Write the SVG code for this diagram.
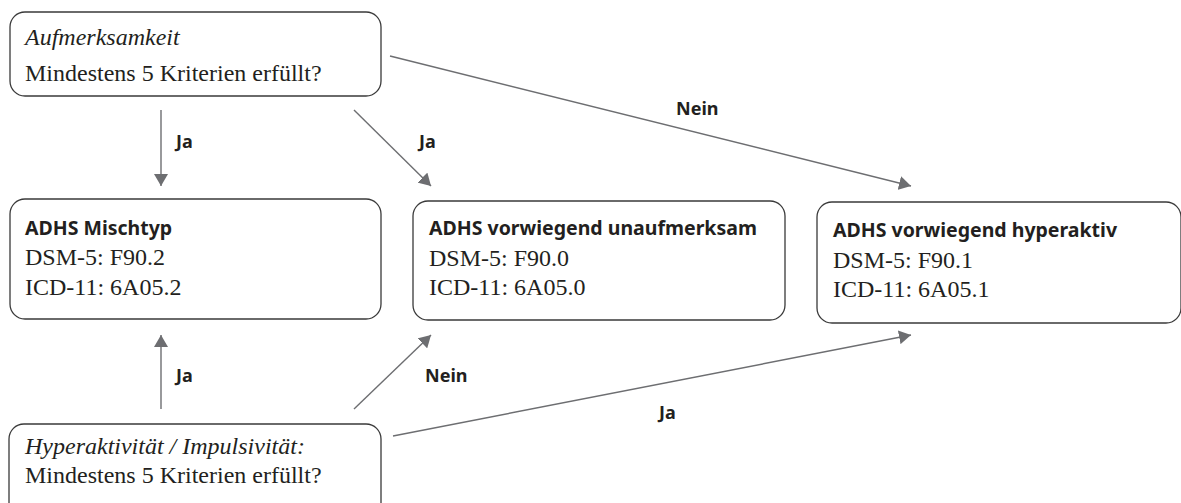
<svg xmlns="http://www.w3.org/2000/svg" width="1181" height="503" viewBox="0 0 1181 503">
<style>
.box{fill:#fff;stroke:#3a3a3a;stroke-width:1.3}
.serif{font-family:"Liberation Serif","Times New Roman",serif;font-size:24px;fill:#231f20}
.it{font-style:italic}
.title{font-family:"Noto Sans","Open Sans",sans-serif;font-weight:700;font-size:19.5px;fill:#231f20}
.lbl{font-family:"Noto Sans","Open Sans",sans-serif;font-weight:700;font-size:18px;fill:#231f20}
.conn{stroke:#6d6e71;stroke-width:1.4;fill:none;marker-end:url(#ah)}
</style>
<defs>
<marker id="ah" viewBox="0 0 12 14" refX="12" refY="7" markerWidth="12" markerHeight="14" markerUnits="userSpaceOnUse" orient="auto">
<path d="M0,0 L12,7 L0,14 Z" fill="#6d6e71"/>
</marker>
</defs>
<rect width="1181" height="503" fill="#fff"/>
<g id="connectors">
<line class="conn" x1="161" y1="110" x2="161" y2="186"/>
<line class="conn" x1="354" y1="110" x2="431" y2="186"/>
<line class="conn" x1="390" y1="56" x2="911" y2="186"/>
<line class="conn" x1="161" y1="409" x2="161" y2="335"/>
<line class="conn" x1="354" y1="409" x2="431" y2="335"/>
<line class="conn" x1="393" y1="436" x2="911" y2="335"/>
<text class="lbl" x="176" y="148">Ja</text>
<text class="lbl" x="419" y="148">Ja</text>
<text class="lbl" x="676" y="115">Nein</text>
<text class="lbl" x="176" y="382">Ja</text>
<text class="lbl" x="425" y="382">Nein</text>
<text class="lbl" x="659" y="419">Ja</text>
</g>
<g id="node-aufmerksamkeit">
<rect class="box" x="10" y="12" width="371" height="84" rx="15"/>
<text class="serif it" x="25" y="45">Aufmerksamkeit</text>
<text class="serif" x="25" y="81">Mindestens 5 Kriterien erfüllt?</text>
</g>
<g id="node-mischtyp">
<rect class="box" x="10" y="199" width="371" height="120" rx="15"/>
<text class="title" x="25" y="235">ADHS Mischtyp</text>
<text class="serif" x="25" y="265">DSM-5: F90.2</text>
<text class="serif" x="25" y="295">ICD-11: 6A05.2</text>
</g>
<g id="node-unaufmerksam">
<rect class="box" x="413" y="201" width="372" height="119" rx="15"/>
<text class="title" x="429" y="235">ADHS vorwiegend unaufmerksam</text>
<text class="serif" x="429" y="266">DSM-5: F90.0</text>
<text class="serif" x="429" y="295">ICD-11: 6A05.0</text>
</g>
<g id="node-hyperaktiv">
<rect class="box" x="817" y="202" width="364" height="121" rx="15"/>
<text class="title" x="833" y="237">ADHS vorwiegend hyperaktiv</text>
<text class="serif" x="833" y="268">DSM-5: F90.1</text>
<text class="serif" x="833" y="297">ICD-11: 6A05.1</text>
</g>
<g id="node-hyperaktivitaet">
<rect class="box" x="9" y="424" width="372" height="100" rx="15"/>
<text class="serif it" x="25" y="454">Hyperaktivität / Impulsivität:</text>
<text class="serif" x="25" y="483">Mindestens 5 Kriterien erfüllt?</text>
</g>
</svg>
